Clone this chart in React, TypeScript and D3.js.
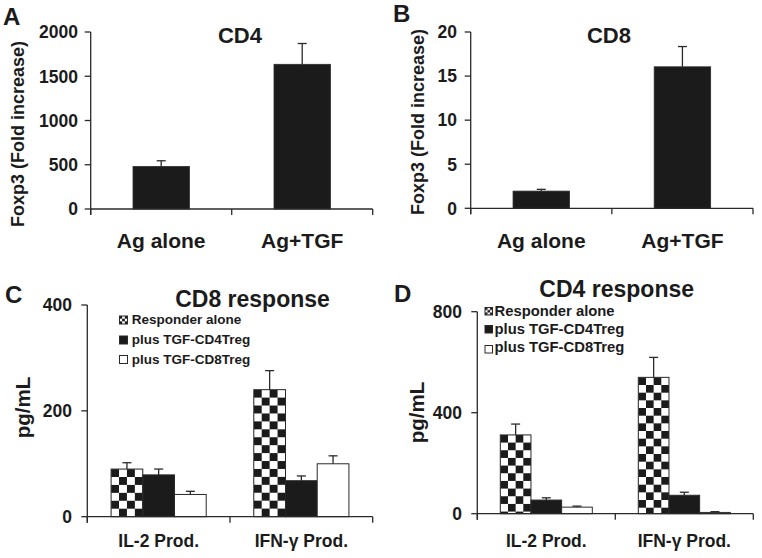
import React from "react";
import * as d3 from "d3";

// ---------- DATA ----------
const foxCategories = ["Ag alone", "Ag+TGF"];
const cd4FoldMean = [480, 1635];
const cd4FoldErr = [65, 235];
const cd4FoldTicks = [0, 500, 1000, 1500, 2000];
const cd8FoldMean = [1.95, 16.05];
const cd8FoldErr = [0.2, 2.3];
const cd8FoldTicks = [0, 5, 10, 15, 20];

const cytoCategories = ["IL-2 Prod.", "IFN-γ Prod."];
const seriesNames = ["Responder alone", "plus TGF-CD4Treg", "plus TGF-CD8Treg"];

const cd8RespResponder = [90, 240];
const cd8RespResponderErr = [12, 36];
const cd8RespCD4Treg = [79, 68];
const cd8RespCD4TregErr = [11, 9];
const cd8RespCD8Treg = [42, 100];
const cd8RespCD8TregErr = [6, 15];
const cd8RespTicks = [0, 200, 400];

const cd4RespResponder = [312, 540];
const cd4RespResponderErr = [43, 79];
const cd4RespCD4Treg = [54, 73];
const cd4RespCD4TregErr = [9, 12];
const cd4RespCD8Treg = [26, 5];
const cd4RespCD8TregErr = [4, 3];
const cd4RespTicks = [0, 400, 800];

// ---------- STYLE / LAYOUT ----------
const FONT = "'Liberation Sans', Arial, Helvetica, sans-serif";
const INK = "#1b1b1b";
const AXIS = "#2a2a2a";

type Layout = { x0: number; x1: number; yTop: number; yBottom: number };

const layoutA: Layout = { x0: 90.7, x1: 372.7, yTop: 32, yBottom: 209 };
const layoutB: Layout = { x0: 470.7, x1: 753, yTop: 32, yBottom: 208.3 };
const layoutC: Layout = { x0: 87.3, x1: 372.7, yTop: 305, yBottom: 516.7 };
const layoutD: Layout = { x0: 477.3, x1: 753.3, yTop: 311.7, yBottom: 513.7 };

const txt = (extra: any = {}) => ({
  fontFamily: FONT,
  fontWeight: 700,
  fill: INK,
  ...extra,
});

function YAxis({ L, y, ticks, labelRight, fontSize }: any) {
  return (
    <g>
      <line x1={L.x0} x2={L.x0} y1={L.yTop} y2={L.yBottom + 6} stroke={AXIS} strokeWidth={1.3} />
      {ticks.map((t: number) => (
        <g key={t}>
          <line x1={L.x0 - 6} x2={L.x0} y1={y(t)} y2={y(t)} stroke={AXIS} strokeWidth={1.3} />
          <text x={labelRight} y={y(t)} dy="0.36em" textAnchor="end" style={txt({ fontSize })}>
            {t}
          </text>
        </g>
      ))}
    </g>
  );
}

function XAxis({ L, n, step }: any) {
  const bounds = d3.range(n + 1).map((i) => L.x0 + i * step);
  return (
    <g>
      <line x1={L.x0} x2={L.x1} y1={L.yBottom} y2={L.yBottom} stroke={AXIS} strokeWidth={1.3} />
      {bounds.map((b, i) => (
        <line key={i} x1={b} x2={b} y1={L.yBottom} y2={L.yBottom + 6} stroke={AXIS} strokeWidth={1.3} />
      ))}
    </g>
  );
}

function ErrorBar({ cx, yTop, yErr, cap }: any) {
  return (
    <g stroke={AXIS} strokeWidth={1.3}>
      <line x1={cx} x2={cx} y1={yTop} y2={yErr} />
      <line x1={cx - cap / 2} x2={cx + cap / 2} y1={yErr} y2={yErr} />
    </g>
  );
}

function SimplePanel({ L, means, errs, ticks, title, titleX, letter, letterX, letterY, labelX, labelY, tickRight, xLabelY }: any) {
  const x = d3.scaleBand<string>().domain(foxCategories).range([L.x0, L.x1]).paddingInner(0.6).paddingOuter(0.3);
  const y = d3.scaleLinear().domain([0, ticks[ticks.length - 1]]).range([L.yBottom, L.yTop]);
  return (
    <g>
      <text x={letterX} y={letterY} style={txt({ fontSize: 24 })}>{letter}</text>
      <text x={titleX} y={43} textAnchor="middle" style={txt({ fontSize: 22 })}>{title}</text>
      <text transform={`translate(${labelX},${labelY}) rotate(-90)`} textAnchor="middle" style={txt({ fontSize: 18 })}>
        Foxp3 (Fold increase)
      </text>
      {foxCategories.map((c, i) => {
        const bx = x(c)!;
        const bw = x.bandwidth();
        return (
          <g key={c}>
            <rect x={bx} y={y(means[i])} width={bw} height={L.yBottom - y(means[i])} fill={INK} stroke={AXIS} strokeWidth={0.8} />
            <ErrorBar cx={bx + bw / 2} yTop={y(means[i])} yErr={y(means[i] + errs[i])} cap={9} />
            <text x={bx + bw / 2} y={xLabelY} textAnchor="middle" style={txt({ fontSize: 21 })}>{c}</text>
          </g>
        );
      })}
      <XAxis L={L} n={foxCategories.length} step={x.step()} />
      <YAxis L={L} y={y} ticks={ticks} labelRight={tickRight} fontSize={17.5} />
    </g>
  );
}

function GroupPanel({ id, L, series, errs, ticks, title, titleX, titleY, letter, letterX, letterY, labelX, labelY, tickRight, xLabelY, legend }: any) {
  const x0 = d3.scaleBand<string>().domain(cytoCategories).range([L.x0, L.x1]).paddingInner(1 / 3).paddingOuter(1 / 6);
  const x1 = d3.scaleBand<number>().domain([0, 1, 2]).range([0, x0.bandwidth()]).padding(0);
  const y = d3.scaleLinear().domain([0, ticks[ticks.length - 1]]).range([L.yBottom, L.yTop]);
  const bw = x1.bandwidth();
  const cell = bw / 4;
  return (
    <g>
      <defs>
        {cytoCategories.map((c, ci) => {
          const bx = x0(c)! + x1(0)!;
          const top = y(series[0][ci]);
          return (
            <pattern key={c} id={`${id}-chk-${ci}`} patternUnits="userSpaceOnUse" x={bx} y={top} width={cell * 2} height={cell * 2}>
              <rect width={cell * 2} height={cell * 2} fill="#fff" />
              <rect width={cell} height={cell} fill={INK} />
              <rect x={cell} y={cell} width={cell} height={cell} fill={INK} />
            </pattern>
          );
        })}
        <pattern id={`${id}-leg`} patternUnits="userSpaceOnUse" x={legend.x} y={legend.sqY[0]} width={legend.sq / 1.5} height={legend.sq / 1.5}>
          <rect width={legend.sq / 1.5} height={legend.sq / 1.5} fill="#fff" />
          <rect width={legend.sq / 3} height={legend.sq / 3} fill={INK} />
          <rect x={legend.sq / 3} y={legend.sq / 3} width={legend.sq / 3} height={legend.sq / 3} fill={INK} />
        </pattern>
      </defs>
      <text x={letterX} y={letterY} style={txt({ fontSize: 24 })}>{letter}</text>
      <text x={titleX} y={titleY} textAnchor="middle" style={txt({ fontSize: 23 })}>{title}</text>
      <text transform={`translate(${labelX},${labelY}) rotate(-90)`} textAnchor="middle" style={txt({ fontSize: 20.5 })}>
        pg/mL
      </text>
      {seriesNames.map((s, si) => (
        <g key={s}>
          <rect
            x={legend.x}
            y={legend.sqY[si]}
            width={legend.sq}
            height={legend.sq}
            fill={si === 0 ? `url(#${id}-leg)` : si === 1 ? INK : "#fff"}
            stroke={AXIS}
            strokeWidth={1}
          />
          <text x={legend.textX} y={legend.baseY[si]} style={txt({ fontSize: legend.fs })}>{s}</text>
        </g>
      ))}
      {cytoCategories.map((c, ci) => (
        <g key={c}>
          {series.map((vals: number[], si: number) => {
            const bx = x0(c)! + x1(si)!;
            const top = y(vals[ci]);
            const fill = si === 0 ? `url(#${id}-chk-${ci})` : si === 1 ? INK : "#fff";
            return (
              <g key={si}>
                <rect x={bx} y={top} width={bw} height={L.yBottom - top} fill={fill} stroke={AXIS} strokeWidth={1} />
                <ErrorBar cx={bx + bw / 2} yTop={top} yErr={y(vals[ci] + errs[si][ci])} cap={9} />
              </g>
            );
          })}
          <text x={x0(c)! + x0.bandwidth() / 2} y={xLabelY} textAnchor="middle" style={txt({ fontSize: 17.5 })}>{c}</text>
        </g>
      ))}
      <XAxis L={L} n={cytoCategories.length} step={x0.step()} />
      <YAxis L={L} y={y} ticks={ticks} labelRight={tickRight} fontSize={17.5} />
    </g>
  );
}

export default function App() {
  return (
    <svg
      width={762}
      height={558}
      viewBox="0 0 762 558"
      style={{ position: "absolute", left: 0, top: 0, background: "#fff" }}
    >
      <rect width={762} height={558} fill="#fff" />
      <SimplePanel
        L={layoutA}
        means={cd4FoldMean}
        errs={cd4FoldErr}
        ticks={cd4FoldTicks}
        title="CD4"
        titleX={240}
        letter="A"
        letterX={3}
        letterY={25}
        labelX={24}
        labelY={134}
        tickRight={78}
        xLabelY={248}
      />
      <SimplePanel
        L={layoutB}
        means={cd8FoldMean}
        errs={cd8FoldErr}
        ticks={cd8FoldTicks}
        title="CD8"
        titleX={609}
        letter="B"
        letterX={393}
        letterY={22}
        labelX={424}
        labelY={122}
        tickRight={457}
        xLabelY={248}
      />
      <GroupPanel
        id="c"
        L={layoutC}
        series={[cd8RespResponder, cd8RespCD4Treg, cd8RespCD8Treg]}
        errs={[cd8RespResponderErr, cd8RespCD4TregErr, cd8RespCD8TregErr]}
        ticks={cd8RespTicks}
        title="CD8 response"
        titleX={252.5}
        titleY={306.5}
        letter="C"
        letterX={5}
        letterY={303}
        labelX={30}
        labelY={407.5}
        tickRight={72}
        xLabelY={546.7}
        legend={{ x: 119.5, sq: 8, sqY: [316, 336, 355.5], textX: 131.7, baseY: [324.3, 344.3, 363.8], fs: 13.5 }}
      />
      <GroupPanel
        id="d"
        L={layoutD}
        series={[cd4RespResponder, cd4RespCD4Treg, cd4RespCD8Treg]}
        errs={[cd4RespResponderErr, cd4RespCD4TregErr, cd4RespCD8TregErr]}
        ticks={cd4RespTicks}
        title="CD4 response"
        titleX={616.7}
        titleY={296.7}
        letter="D"
        letterX={394}
        letterY={302}
        labelX={424}
        labelY={412.5}
        tickRight={462}
        xLabelY={547.3}
        legend={{ x: 485, sq: 7.5, sqY: [307.5, 325.5, 345.5], textX: 494.5, baseY: [315.7, 333.5, 352], fs: 14.8 }}
      />
    </svg>
  );
}
